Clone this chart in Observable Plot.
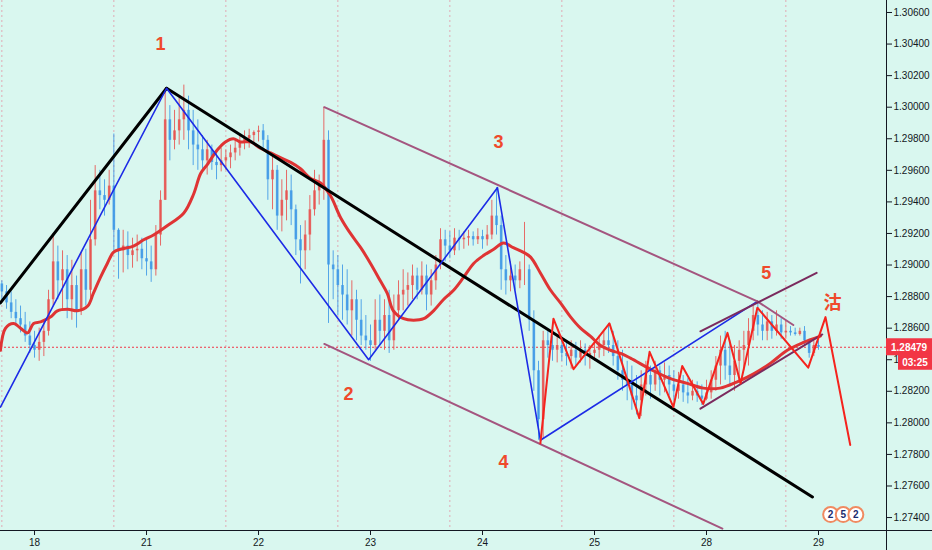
<!DOCTYPE html>
<html><head><meta charset="utf-8">
<script src="https://cdn.jsdelivr.net/npm/d3@7"></script>
<script src="https://cdn.jsdelivr.net/npm/@observablehq/plot@0.6"></script>
<style>
html,body{margin:0;padding:0;background:#d9f7ef;}
#chart{width:932px;height:550px;overflow:hidden;}
</style></head><body><div id="chart"></div>
<script>
// ---- tick / axis data ----
const dayTicks = [0, 24, 48, 72, 96, 120, 144, 168];
const dayLabels = ["18", "21", "22", "23", "24", "25", "28", "29"];
const sessionLines = [-7, 17, 41, 65, 89, 113, 137, 161];
const priceTicks = [1.274, 1.276, 1.278, 1.280, 1.282, 1.284, 1.286, 1.288, 1.290, 1.292, 1.294, 1.296, 1.298, 1.300, 1.302, 1.304, 1.306];
const hourDomain = [-7.29, 182.57];
const priceDomain = [1.27318, 1.30676];

// ---- hourly candles (hour -7 .. 168) ----
const firstHour = -7;
const firstOpen = 1.2888;
const high = [
1.2890,1.2887,1.2883,1.2878,1.2874,1.2870,1.2864,1.2858,1.2860,1.2865,
1.2884,1.2920,1.2912,1.2909,1.2906,1.2903,1.2893,1.2908,1.2910,1.2941,
1.2963,1.2960,1.2954,1.2960,1.2983,1.2923,1.2922,1.2921,1.2917,1.2919,
1.2917,1.2916,1.2912,1.2925,1.2947,1.3012,1.3001,1.2998,1.3007,1.3014,
1.3007,1.2998,1.2992,1.2982,1.2979,1.2976,1.2973,1.2974,1.2973,1.2976,
1.2979,1.2982,1.2985,1.2986,1.2985,1.2988,1.2989,1.2982,1.2969,1.2963,
1.2954,1.2960,1.2957,1.2938,1.2925,1.2928,1.2944,1.2960,1.2957,1.3000,
1.2985,1.2909,1.2906,1.2900,1.2897,1.2890,1.2884,1.2878,1.2868,1.2862,
1.2878,1.2881,1.2878,1.2884,1.2881,1.2890,1.2897,1.2895,1.2900,1.2898,
1.2902,1.2900,1.2897,1.2906,1.2923,1.2922,1.2921,1.2923,1.2922,1.2921,
1.2922,1.2921,1.2923,1.2922,1.2925,1.2941,1.2949,1.2931,1.2906,1.2902,
1.2900,1.2902,1.2927,1.2900,1.2871,1.2839,1.2858,1.2858,1.2855,1.2854,
1.2853,1.2852,1.2852,1.2851,1.2852,1.2850,1.2849,1.2851,1.2855,1.2858,
1.2863,1.2858,1.2852,1.2846,1.2839,1.2836,1.2830,1.2833,1.2839,1.2836,
1.2839,1.2836,1.2838,1.2836,1.2833,1.2832,1.2830,1.2828,1.2827,1.2826,
1.2824,1.2827,1.2833,1.2842,1.2855,1.2858,1.2852,1.2849,1.2852,1.2858,
1.2866,1.2874,1.2876,1.2871,1.2870,1.2868,1.2871,1.2866,1.2865,1.2861,
1.2860,1.2860,1.2861,1.2853,1.2852,1.2852];
const low = [
1.2878,1.2872,1.2866,1.2861,1.2857,1.2851,1.2844,1.2841,1.2839,1.2842,
1.2855,1.2874,1.2878,1.2871,1.2866,1.2865,1.2860,1.2868,1.2874,1.2878,
1.2912,1.2935,1.2931,1.2938,1.2909,1.2891,1.2895,1.2897,1.2898,1.2902,
1.2897,1.2893,1.2889,1.2893,1.2912,1.2941,1.2966,1.2973,1.2976,1.2979,
1.2973,1.2963,1.2960,1.2959,1.2957,1.2960,1.2954,1.2959,1.2960,1.2961,
1.2966,1.2969,1.2973,1.2974,1.2976,1.2978,1.2973,1.2941,1.2935,1.2922,
1.2921,1.2928,1.2925,1.2906,1.2888,1.2897,1.2909,1.2931,1.2938,1.2941,
1.2863,1.2878,1.2868,1.2865,1.2862,1.2855,1.2852,1.2849,1.2846,1.2839,
1.2846,1.2849,1.2846,1.2844,1.2846,1.2865,1.2871,1.2874,1.2878,1.2878,
1.2881,1.2871,1.2874,1.2884,1.2897,1.2902,1.2904,1.2906,1.2909,1.2910,
1.2912,1.2912,1.2913,1.2910,1.2912,1.2916,1.2919,1.2884,1.2881,1.2883,
1.2884,1.2885,1.2887,1.2858,1.2820,1.2789,1.2790,1.2841,1.2839,1.2838,
1.2839,1.2836,1.2834,1.2836,1.2838,1.2836,1.2834,1.2839,1.2841,1.2842,
1.2844,1.2836,1.2827,1.2820,1.2814,1.2808,1.2805,1.2804,1.2817,1.2815,
1.2820,1.2817,1.2819,1.2817,1.2814,1.2815,1.2813,1.2812,1.2814,1.2813,
1.2811,1.2814,1.2815,1.2820,1.2824,1.2827,1.2824,1.2820,1.2827,1.2833,
1.2836,1.2852,1.2855,1.2852,1.2852,1.2853,1.2855,1.2853,1.2853,1.2855,
1.2855,1.2855,1.2849,1.2841,1.2842,1.2846];
const close = [
1.2883,1.2876,1.2870,1.2866,1.2862,1.2855,1.2849,1.2846,1.2851,1.2858,
1.2878,1.2902,1.2890,1.2897,1.2878,1.2887,1.2871,1.2897,1.2884,1.2916,
1.2947,1.2944,1.2941,1.2950,1.2922,1.2909,1.2912,1.2906,1.2909,1.2910,
1.2904,1.2902,1.2897,1.2919,1.2941,1.2992,1.2979,1.2985,1.2992,1.2998,
1.2985,1.2976,1.2973,1.2966,1.2973,1.2965,1.2963,1.2966,1.2968,1.2971,
1.2974,1.2978,1.2980,1.2982,1.2984,1.2985,1.2979,1.2954,1.2960,1.2931,
1.2941,1.2947,1.2935,1.2916,1.2909,1.2919,1.2935,1.2947,1.2950,1.2979,
1.2900,1.2897,1.2887,1.2881,1.2871,1.2878,1.2865,1.2855,1.2852,1.2849,
1.2865,1.2858,1.2868,1.2852,1.2871,1.2881,1.2884,1.2887,1.2893,1.2884,
1.2893,1.2881,1.2890,1.2900,1.2916,1.2912,1.2909,1.2917,1.2916,1.2917,
1.2918,1.2916,1.2918,1.2916,1.2919,1.2931,1.2925,1.2897,1.2890,1.2893,
1.2890,1.2897,1.2897,1.2865,1.2833,1.2802,1.2852,1.2849,1.2846,1.2849,
1.2844,1.2842,1.2846,1.2841,1.2846,1.2842,1.2844,1.2846,1.2849,1.2852,
1.2849,1.2842,1.2833,1.2827,1.2824,1.2817,1.2814,1.2824,1.2830,1.2824,
1.2833,1.2827,1.2830,1.2824,1.2820,1.2824,1.2819,1.2817,1.2820,1.2817,
1.2815,1.2819,1.2827,1.2836,1.2846,1.2836,1.2830,1.2839,1.2846,1.2849,
1.2858,1.2868,1.2862,1.2858,1.2864,1.2858,1.2862,1.2857,1.2858,1.2857,
1.2856,1.2858,1.2852,1.2844,1.2849,1.28479];

// ---- moving average ----
const maHour = [-7.3,-6.2,-4.5,-3.0,-1.5,-0.2,1.3,3.4,4.9,7.1,9.2,11.4,12.6,14.1,15.6,16.9,18.4,21.2,23.4,25.5,28.5,32.0,34.1,35.6,37.1,39.2,40.9,42.6,44.1,46.3,48.4,50.6,52.7,54.9,57.0,59.1,61.3,63.4,65.6,67.7,69.9,72.0,74.1,75.6,76.9,79.1,81.2,83.4,85.5,87.6,89.8,91.9,94.1,96.2,98.4,100.5,102.6,104.8,106.3,108.4,110.6,112.7,114.9,117.0,119.1,121.3,123.4,125.6,127.7,132.6,136.3,139.9,143.3,146.9,150.6,154.1,157.8,161.3,164.8,168.4];
const maPrice = [1.2846,1.2860,1.2863,1.2860,1.2857,1.2863,1.2864,1.2867,1.2871,1.2872,1.2871,1.2874,1.2882,1.2892,1.2901,1.2908,1.2910,1.2912,1.2916,1.2919,1.2925,1.2933,1.2945,1.2958,1.2964,1.2973,1.2978,1.2980,1.2978,1.2978,1.2974,1.2971,1.2968,1.2965,1.2961,1.2955,1.2952,1.2944,1.2930,1.2920,1.2911,1.2901,1.2890,1.2882,1.2871,1.2866,1.2865,1.2866,1.2871,1.2878,1.2884,1.2892,1.2901,1.2906,1.2910,1.2914,1.2911,1.2908,1.2905,1.2895,1.2884,1.2876,1.2867,1.2860,1.2855,1.2849,1.2846,1.2844,1.2841,1.2833,1.2828,1.2825,1.2822,1.2822,1.2826,1.2831,1.2838,1.2846,1.2851,1.2855];

// ---- drawn analysis lines ----
const blackUpHour = [-7.3, 28.3];
const blackUpPrice = [1.2876, 1.3012];
const blackDownHour = [28.3, 166.7];
const blackDownPrice = [1.3012, 1.2753];
const blueHour = [-7.3, 28.3, 71.6, 99.2, 108.4, 154.9];
const bluePrice = [1.2810, 1.3012, 1.2840, 1.2949, 1.2789, 1.2877];
const chanTopHour = [62.1, 154.9];
const chanTopPrice = [1.3000, 1.2877];
const chanTailHour = [154.9, 162.6];
const chanTailPrice = [1.2877, 1.2862];
const chanBotHour = [62.1, 147.4];
const chanBotPrice = [1.2850, 1.2733];
const riseTopHour = [142.7, 167.6];
const riseTopPrice = [1.2858, 1.2895];
const riseBotHour = [142.7, 168.8];
const riseBotPrice = [1.2809, 1.2856];
const redHour = [108.4, 111.2, 115.5, 123.2, 129.6, 131.8, 136.9, 138.8, 143.3, 148.5, 151.3, 154.9, 165.8, 169.5, 174.8];
const redPrice = [1.2787, 1.2866, 1.2834, 1.2863, 1.2803, 1.2845, 1.2810, 1.2836, 1.2812, 1.2857, 1.2825, 1.2873, 1.2835, 1.2867, 1.2786];

// ---- annotations ----
const noteText = ["1", "2", "3", "4", "5", "沽"];
const noteHour = [27.0, 67.3, 99.4, 100.5, 156.8, 171.0];
const notePrice = [1.3040, 1.2818, 1.2978, 1.2775, 1.2895, 1.2876];
const eventText = ["2", "5", "2"];
const eventHour = [170.6, 173.3, 176.0];
const eventPrice = [1.27419, 1.27419, 1.27419];
const countdown = "03:25";

// ---- build ----
const candles = close.map((c, i) => ({
  h: firstHour + i, o: i ? close[i - 1] : firstOpen, c, hi: high[i], lo: low[i]
}));
const upColor = "#e8514f", downColor = "#3c97e6";
const col = d => d.c >= d.o ? upColor : downColor;
const pts = (hs, ps) => hs.map((h, i) => ({h, p: ps[i]}));
const lastClose = close[close.length - 1];
const notes = noteText.map((t, i) => ({t, h: noteHour[i], p: notePrice[i]}));
const events = eventText.map((t, i) => ({t, h: eventHour[i], p: eventPrice[i]}));
const line = (hs, ps, stroke, w) => Plot.line(pts(hs, ps), {x: "h", y: "p", stroke, strokeWidth: w});
const font = "'Liberation Sans', Arial, sans-serif";

const chart = Plot.plot({
  width: 932, height: 550,
  marginLeft: 0, marginRight: 46, marginTop: 0, marginBottom: 20,
  x: {domain: hourDomain, axis: null},
  y: {domain: priceDomain, axis: null},
  style: {background: "#d9f7ef", fontFamily: font, fontSize: "10px", color: "#131722", overflow: "visible"},
  marks: [
    Plot.ruleX(sessionLines, {stroke: "#e0aab4", strokeDasharray: "2,3", strokeWidth: 1}),
    Plot.ruleY([lastClose], {stroke: "#f23645", strokeDasharray: "2,2", strokeWidth: 1}),
    Plot.ruleX(candles, {x: "h", y1: "lo", y2: "hi", stroke: col, strokeWidth: 1, strokeOpacity: 0.85}),
    Plot.ruleX(candles, {x: "h", y1: "o", y2: "c", stroke: col, strokeWidth: 2.6, strokeOpacity: 0.85}),
    Plot.line(pts(maHour, maPrice), {x: "h", y: "p", stroke: "#df3434", strokeWidth: 3, curve: "catmull-rom"}),
    line(blackUpHour, blackUpPrice, "#000000", 3),
    line(blackDownHour, blackDownPrice, "#000000", 3),
    line(blueHour, bluePrice, "#1c2be6", 1.6),
    line(chanTopHour, chanTopPrice, "#a4557f", 2),
    line(chanTailHour, chanTailPrice, "#a4557f", 2),
    line(chanBotHour, chanBotPrice, "#a4557f", 2),
    line(riseTopHour, riseTopPrice, "#7b2a5e", 2),
    line(riseBotHour, riseBotPrice, "#7b2a5e", 2),
    line(redHour, redPrice, "#f5231d", 2),
    Plot.text(notes, {x: "h", y: "p", text: "t", fill: "#ef4a2b", fontSize: 18, fontWeight: "bold",
      fontFamily: "'Liberation Sans', 'Noto Sans CJK SC', sans-serif"}),
    Plot.dot(events, {x: "h", y: "p", r: 7.5, fill: "#ffffff", stroke: "#f08a60", strokeWidth: 2}),
    Plot.text(events, {x: "h", y: "p", text: "t", fill: "#1c2b6e", fontSize: 10, fontWeight: "bold"}),
    Plot.ruleY([priceDomain[0]], {x1: hourDomain[0], x2: 200, stroke: "#131722", strokeWidth: 1}),
    Plot.ruleX([hourDomain[1]], {y1: priceDomain[1], y2: 1.2700, stroke: "#131722", strokeWidth: 1}),
    Plot.axisY(priceTicks, {anchor: "right", label: null, tickFormat: d => d.toFixed(5), tickSize: 5, tickPadding: 2, fontSize: 10, stroke: "#131722", fill: "#131722"}),
    Plot.axisX(dayTicks, {anchor: "bottom", label: null, tickFormat: d => dayLabels[dayTicks.indexOf(d)], tickSize: 5, tickPadding: 3, fontSize: 10, stroke: "#131722", fill: "#131722"})
  ]
});

document.getElementById("chart").appendChild(chart);

// price tag and countdown at the right axis, positioned via the plot's scales
const sx = chart.scale("x"), sy = chart.scale("y");
const xr = sx.apply(hourDomain[1]);
const yl = sy.apply(lastClose);
const svg = d3.select(chart);
svg.append("rect").attr("x", xr).attr("y", yl - 8.5).attr("width", 46).attr("height", 17).attr("fill", "#f23645");
svg.append("text").attr("x", xr + 5).attr("y", yl + 4).attr("fill", "#ffffff").attr("text-anchor", "start")
  .attr("font-size", 10).attr("font-weight", "bold").attr("font-family", font).text(lastClose.toFixed(5));
svg.append("rect").attr("x", xr + 12).attr("y", yl + 7).attr("width", 34).attr("height", 16).attr("fill", "#f23645");
svg.append("text").attr("x", xr + 29).attr("y", yl + 19).attr("fill", "#ffffff").attr("text-anchor", "middle")
  .attr("font-size", 10).attr("font-weight", "bold").attr("font-family", font).text(countdown);
</script></body></html>
